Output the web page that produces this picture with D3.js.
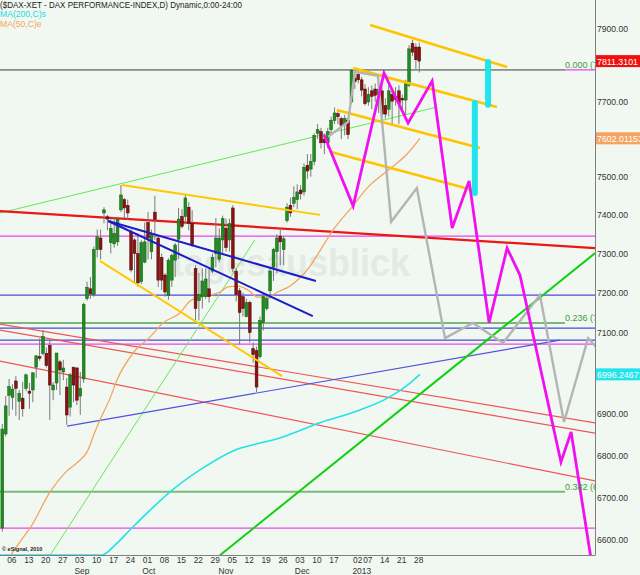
<!DOCTYPE html>
<html><head><meta charset="utf-8">
<script src="https://cdn.jsdelivr.net/npm/d3@7"></script>
<style>
html,body{margin:0;padding:0;background:#f1f8f1;}
svg{display:block;font-family:"Liberation Sans",Arial,sans-serif;}
</style>
</head><body>
<svg id="c" width="640" height="575"></svg>
<script>
// ---------- DATA ----------
// daily candles [open, high, low, close], trading day index 0 = 3 Aug 2012
const ohlc = [
[6628,6875,6620,6863],[6851,6943,6845,6919],[6945,6985,6895,6966],[6940,6972,6910,6960],[6980,6992,6895,6962],
[6930,6958,6885,6950],[6938,6978,6893,6912],[6962,6998,6955,6995],[6955,6975,6912,6950],[6958,7002,6928,7000],
[7014,7044,6987,7042],[7040,7085,7030,7036],[7048,7106,7043,7090],[7048,7063,7013,7018],[7068,7081,6885,6970],
[6958,6977,6933,6970],[6975,7049,6958,7049],[7027,7032,6945,7007],[7002,7032,6982,7012],[6965,6987,6873,6897],
[6916,7000,6893,6995],[7014,7014,6928,6970],[7012,7014,6921,6933],[6943,7002,6897,6962],[6985,7175,6975,7170],
[7185,7228,7180,7214],[7210,7240,7185,7197],[7195,7318,7190,7310],[7310,7362,7290,7343],[7340,7362,7285,7310],
[7405,7420,7378,7413],[7395,7400,7360,7389],[7328,7388,7300,7365],[7325,7395,7315,7352],[7330,7395,7320,7389],
[7413,7478,7407,7452],[7440,7444,7392,7418],[7425,7440,7387,7405],[7355,7362,7252,7258],[7335,7340,7225,7300],
[7300,7352,7215,7225],[7228,7335,7222,7328],[7278,7380,7275,7330],[7380,7408,7285,7340],[7305,7362,7285,7352],
[7407,7450,7335,7388],[7340,7347,7215,7232],[7290,7300,7207,7232],[7245,7250,7190,7202],[7193,7288,7182,7283],
[7232,7300,7215,7295],[7283,7327,7240,7322],[7337,7418,7286,7389],[7396,7415,7365,7370],[7396,7452,7375,7444],
[7420,7433,7360,7378],[7378,7412,7317,7322],[7262,7270,7130,7160],[7180,7250,7130,7195],[7190,7262,7160,7230],
[7190,7262,7185,7235],[7210,7265,7175,7190],[7255,7300,7250,7290],[7300,7392,7265,7340],[7285,7365,7277,7340],
[7335,7398,7300,7390],[7365,7390,7305,7315],[7335,7390,7305,7377],[7418,7425,7252,7262],[7255,7262,7178,7195],
[7205,7212,7070,7150],[7190,7200,7140,7160],[7140,7185,7138,7175],[7175,7180,7075,7100],[7060,7075,7025,7045],
[7055,7065,6953,6965],[7040,7140,7035,7130],[7125,7200,7105,7190],[7160,7195,7155,7185],[7205,7265,7185,7255],
[7265,7315,7230,7310],[7305,7350,7250,7340],[7345,7365,7270,7330],[7310,7345,7270,7338],[7385,7430,7380,7420],
[7425,7445,7395,7405],[7430,7475,7420,7445],[7440,7480,7415,7460],[7465,7478,7440,7455],[7460,7535,7450,7525],
[7530,7560,7495,7515],[7520,7560,7500,7540],[7540,7615,7530,7610],[7615,7640,7600,7625],[7620,7630,7575,7590],
[7600,7615,7560,7590],[7590,7630,7575,7620],[7625,7660,7615,7650],[7650,7685,7640,7670],[7668,7680,7640,7660],
[7655,7660,7600,7636],[7640,7665,7610,7655],[7650,7660,7600,7612],[7700,7790,7695,7785],[7765,7780,7735,7755],
[7775,7785,7750,7760],[7760,7768,7715,7732],[7735,7748,7690,7695],[7700,7740,7690,7720],[7730,7745,7680,7715],
[7735,7750,7700,7718],[7720,7760,7670,7735],[7730,7740,7640,7667],[7690,7710,7655,7667],[7680,7745,7660,7730],
[7720,7735,7640,7702],[7715,7740,7690,7707],[7730,7745,7640,7695],[7710,7720,7680,7705],[7705,7760,7665,7755],
[7745,7855,7740,7845],[7860,7870,7825,7836],[7850,7860,7790,7815],[7850,7862,7780,7811.31]
];
const lastClose = "7811.3101";
const ma50Last = "7602.01153";
const ma200Last = "6996.24671";

// moving averages [dayIndex, value]
const ma50 = [[2.5,6530],[6.7,6612],[8.2,6628],[14.1,6713],[18.5,6758],[22.3,6784],[25.0,6808],[27.3,6856],[28.8,6885],
[31.8,6938],[33.8,6982],[38.6,7049],[43.6,7089],[47.4,7124],[52.4,7149],[55.4,7179],[58.3,7189],[61.3,7194],[64.2,7202],
[66.6,7215],[69.5,7217],[72.5,7207],[75.4,7189],[78.4,7189],[81.3,7202],[84.9,7217],[87.8,7238],[90.8,7268],[93.7,7307],
[97.6,7361],[103.2,7421],[107.6,7470],[113.5,7515],[119.4,7560],[123.2,7602]];
const ma200 = [[-0.68,6500],[29.4,6545],[33.3,6589],[37.7,6624],[43.6,6670],[49.5,6713],[58.3,6765],[70.1,6817],[74.0,6825],
[82.8,6844],[93.7,6878],[105.5,6909],[114.3,6941],[120.3,6975],[123.2,6996]];

// axis labels (7000, 7600, 7800 lie under the value boxes)
const priceTicks = [6600,6700,6800,6900,7100,7200,7300,7400,7500,7700,7900];
const dayTicks = [[1,"06"],[6,"13"],[11,"20"],[16,"27"],[21,"03"],[26,"10"],[31,"17"],[36,"24"],[41,"01"],[46,"08"],
[51,"15"],[56,"22"],[61,"29"],[66,"05"],[71,"12"],[76,"19"],[81,"26"],[86,"03"],[91,"10"],[96,"17"],[103,"02"],[106,"07"],
[111,"14"],[116,"21"],[121,"28"]];
const monthTicks = [[21,"Sep"],[41,"Oct"],[63.5,"Nov"],[86,"Dec"],[103,"2013"]];

// horizontal levels
const magentaLevels = [7787,7345,7071,6628];
const blueLevels = [7194,7111,7081];
const fibLevels = [["0.000",7787],["0.236",7124],["0.382",6713]];

// trend lines [[i1,v1],[i2,v2]]
const redThick = [[[-0.68,7410],[174.84,7314]]];
const redThin = [[[-0.68,7121],[174.84,6878]],[[-0.68,7106],[174.84,6853]],[[-0.68,7029],[174.84,6739]]];
const lightGreen = [[[-0.68,7405],[128.2,7686]],[[14.1,6565],[74.5,7335]]];
const brightGreen = [[[64.2,6565],[174.84,7301]]];
const goldThick = [[[108.5,7911],[148.9,7795]],[[103.5,7792],[145.9,7686]],[[98.7,7678],[140.9,7576]],[[96.7,7566],[138.8,7465]]];
const goldThin = [[[35.3,7478],[93.7,7400]],[[28.8,7281],[82.5,6992]]];
const blueThick = [[[31.2,7384],[92.5,7230]],[[31.2,7384],[91.6,7141]]];
const blueThin = [[[19.1,6870],[164.5,7081]]];

// projections
const magentaPath = [[94.9,7611],[103.5,7423],[112.6,7779],[119.7,7643],[126.8,7757],[132.7,7366],[137.7,7489],
[143.6,7124],[148.9,7314],[152.7,7245],[164.8,6784],[167.8,6856],[174.0,6540]];
const grayPath = [[96.1,7606],[102.0,7646],[104.0,7782],[110.8,7771],[114.7,7382],[122.3,7470],[130.6,7086],
[138.8,7124],[147.7,7074],[158.6,7194],[165.7,6880],[172.8,7086],[175.4,7062]];
const cyanBars = [[143.3,7809,7692],[139.4,7697,7579],[139.4,7576,7457]];

// ---------- CHART ----------
const svg = d3.select("#c");
const PW = 595, PH = 555;
const x = d3.scaleLinear().domain([-0.68,174.84]).range([0,PW]);
const y = d3.scaleLog().domain([6565.5,7981]).range([PH,0]);
const yc = y.copy().clamp(true);

svg.append("rect").attr("width",640).attr("height",575).attr("fill","#f1f8f1");
svg.append("defs").append("clipPath").attr("id","pc").append("rect").attr("x",0).attr("y",0).attr("width",PW).attr("height",PH+1);
const g = svg.append("g").attr("clip-path","url(#pc)");

// watermark
g.append("text").attr("x",172).attr("y",276).attr("font-size",38).attr("font-weight","bold")
 .attr("fill","#e3eae3").attr("textLength",238).attr("lengthAdjust","spacingAndGlyphs").text("tagesausblick");

const hl = (v,c,w,x2) => g.append("line").attr("x1",0).attr("x2",x2===undefined?PW:x2).attr("y1",y(v)).attr("y2",y(v))
  .attr("stroke",c).attr("stroke-width",w);
magentaLevels.forEach(v=>hl(v,"#ee44ee",1.2));
blueLevels.forEach(v=>hl(v,"#4a4ad8",1.2));
fibLevels.forEach((f,k)=>hl(f[1], k===0?"#3aaa3a":"#77bb77", k===0?1:2, 565));

const seg = (arr,c,w,op) => arr.forEach(s=>g.append("line")
  .attr("x1",x(s[0][0])).attr("y1",y(s[0][1])).attr("x2",x(s[1][0])).attr("y2",y(s[1][1]))
  .attr("stroke",c).attr("stroke-width",w).attr("stroke-opacity",op||1));
seg(redThin,"#f05555",1.2);
seg(lightGreen,"#66e855",1);
seg(blueThin,"#5050e0",1.2);
seg(redThick,"#ee1515",2.2);
seg(brightGreen,"#10d010",2);

// moving averages
const lineGen = d3.line().x(d=>x(d[0])).y(d=>yc(d[1])).curve(d3.curveMonotoneX);
g.append("path").attr("d",lineGen(ma200)).attr("fill","none").attr("stroke","#22e2e8").attr("stroke-width",1.6);
g.append("path").attr("d",lineGen(ma50)).attr("fill","none").attr("stroke","#f4a460").attr("stroke-width",1.3);

// candles
const cg = g.append("g");
ohlc.forEach((d,i)=>{
  const [o,h,l,c] = d, up = c>=o, cx = x(i);
  cg.append("line").attr("x1",cx).attr("x2",cx).attr("y1",y(h)).attr("y2",y(l)).attr("stroke","#7a7a7a").attr("stroke-width",1);
  const top = y(Math.max(o,c)), bot = y(Math.min(o,c));
  cg.append("rect").attr("x",cx-1.4).attr("width",2.8).attr("y",top).attr("height",Math.max(1,bot-top))
    .attr("fill",up?"#1f8e1f":"#8c1212").attr("stroke",up?"#135a13":"#4a0808").attr("stroke-width",0.5);
});

seg(goldThin,"#ffc800",2);
seg(goldThick,"#ffc400",2.6);
seg(blueThick,"#1c1cc8",2);

// projections
const pl = d3.line().x(d=>x(d[0])).y(d=>y(d[1]));
g.append("path").attr("d",pl(grayPath)).attr("fill","none").attr("stroke","#b4b4b4").attr("stroke-width",2.4);
g.append("path").attr("d",pl(magentaPath)).attr("fill","none").attr("stroke","#f010f0").attr("stroke-width",2.8).attr("stroke-linejoin","miter");
cyanBars.forEach(b=>g.append("line").attr("x1",x(b[0])).attr("x2",x(b[0])).attr("y1",y(b[1])).attr("y2",y(b[2]))
  .attr("stroke","#22e4ec").attr("stroke-width",6).attr("stroke-linecap","round"));

// fib labels (clipped at the price axis like the original)
fibLevels.forEach(f=>g.append("text").attr("x",565).attr("y",y(f[1])-2).attr("font-size",9).attr("fill","#3aa03a")
  .text(f[0]+" ("+f[1].toFixed(0).slice(0,1)));

// frame
svg.append("line").attr("x1",0).attr("x2",PW).attr("y1",PH+0.5).attr("y2",PH+0.5).attr("stroke","#808080");
svg.append("line").attr("x1",PW+0.5).attr("x2",PW+0.5).attr("y1",0).attr("y2",PH+0.5).attr("stroke","#808080");

// y axis
const ya = svg.append("g").attr("transform",`translate(${PW},0)`)
  .call(d3.axisRight(y).tickValues(priceTicks).tickFormat(d3.format(".2f")).tickSize(0).tickPadding(2));
ya.select(".domain").remove();
ya.selectAll("text").attr("font-size",8.6).attr("fill","#333").attr("font-family","Liberation Sans, Arial");

// x axis
const xa = svg.append("g").attr("transform",`translate(0,${PH})`)
  .call(d3.axisBottom(x).tickValues(dayTicks.map(d=>d[0])).tickFormat((d,k)=>dayTicks[k][1]).tickSize(0).tickPadding(2));
xa.select(".domain").remove();
xa.selectAll("text").attr("font-size",8.4).attr("fill","#333").attr("text-anchor","start").attr("dx",1).attr("font-family","Liberation Sans, Arial");
monthTicks.forEach(m=>svg.append("text").attr("x",x(m[0])+1).attr("y",574).attr("font-size",8.4).attr("fill","#333").text(m[1]));

// value boxes
const box = (v,txt,bg,fg) => {
  svg.append("rect").attr("x",596).attr("y",y(v)-6).attr("width",48).attr("height",12).attr("fill",bg);
  svg.append("text").attr("x",597).attr("y",y(v)+3.5).attr("font-size",8.8).attr("fill",fg).text(txt);
};
box(+lastClose,lastClose,"#f01010","#fff");
box(+ma50Last,ma50Last,"#f4a460","#fff");
box(+ma200Last,ma200Last,"#22e4ec","#fff");

// titles
svg.append("text").attr("x",0).attr("y",8).attr("font-size",9).attr("fill","#222").attr("textLength",242)
  .attr("lengthAdjust","spacingAndGlyphs").text("($DAX-XET - DAX PERFORMANCE-INDEX,D) Dynamic,0:00-24:00");
svg.append("text").attr("x",0).attr("y",17).attr("font-size",8.6).attr("fill","#22d8e0").text("MA(200,C)s");
svg.append("text").attr("x",0).attr("y",27).attr("font-size",8.6).attr("fill","#f4a460").text("MA(50,C)e");
svg.append("text").attr("x",2).attr("y",551).attr("font-size",5.5).attr("font-weight","bold").attr("fill","#222").text("© eSignal, 2010");
</script>
</body></html>
